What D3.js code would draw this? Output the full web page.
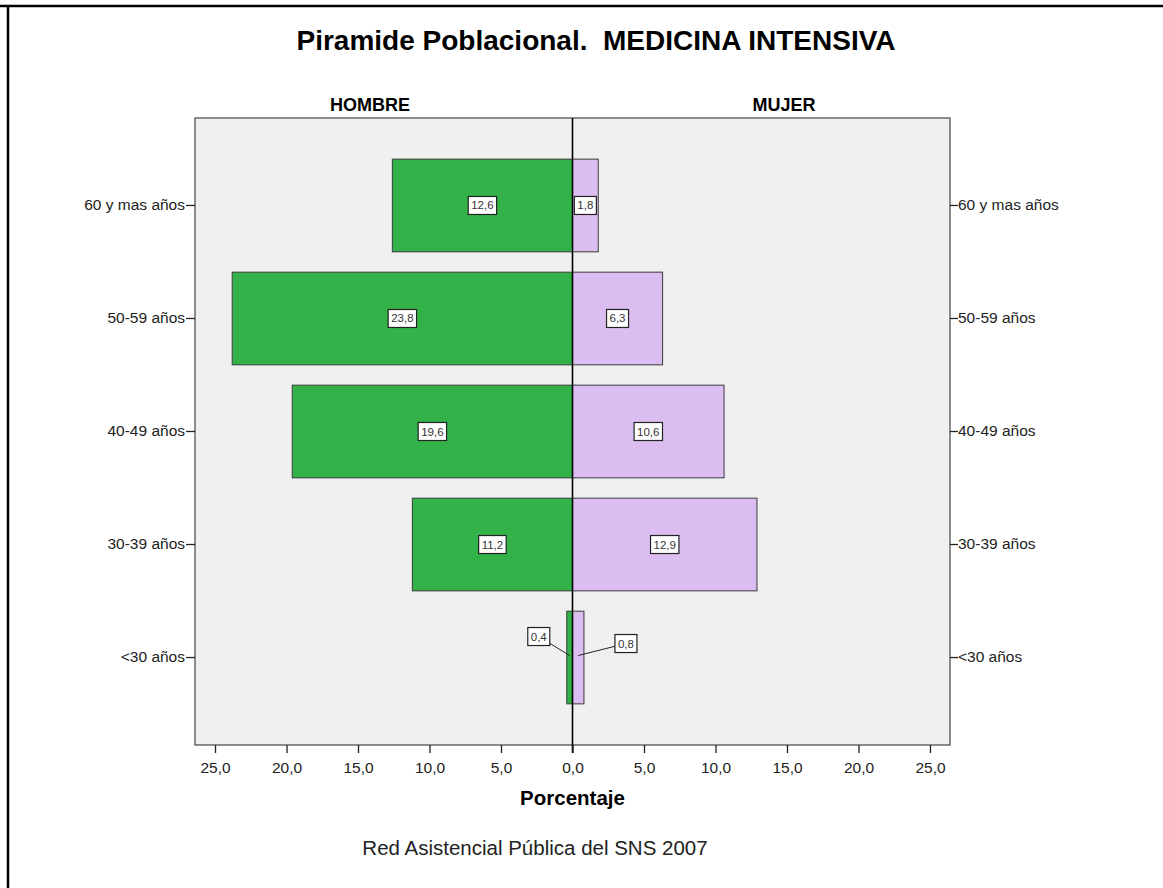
<!DOCTYPE html>
<html>
<head>
<meta charset="utf-8">
<script src="https://cdn.jsdelivr.net/npm/d3@7"></script>
<style>
  body { margin: 0; background: #fff; }
  svg { display: block; font-family: Arial, "Liberation Sans", sans-serif; }
</style>
</head>
<body>
<div id="chart"></div>
<script>
// Datos (porcentaje por grupo de edad)
const ageGroups = ['60 y mas años', '50-59 años', '40-49 años', '30-39 años', '<30 años'];
const hombre = [12.6, 23.8, 19.6, 11.2, 0.4];
const mujer = [1.8, 6.3, 10.6, 12.9, 0.8];
const xTicks = [-25, -20, -15, -10, -5, 0, 5, 10, 15, 20, 25];

const width = 1163, height = 888;
const plot = { left: 195, right: 950, top: 118, bottom: 745 };
const FONT = 'Arial, "Liberation Sans", sans-serif';

const svg = d3.select('#chart').append('svg')
  .attr('width', width).attr('height', height);

// marco exterior
svg.append('line').attr('x1', 0).attr('x2', width).attr('y1', 6).attr('y2', 6)
  .attr('stroke', '#000').attr('stroke-width', 2.5);
svg.append('line').attr('x1', 8).attr('x2', 8).attr('y1', 6).attr('y2', height)
  .attr('stroke', '#000').attr('stroke-width', 2.5);

const x = d3.scaleLinear().domain([-26.4, 26.4]).range([plot.left, plot.right]);
const y = d3.scaleBand().domain(ageGroups).range([plot.top, plot.bottom])
  .paddingInner(0.18).paddingOuter(0.364);

// fondo del area de graficos
svg.append('rect')
  .attr('x', plot.left).attr('y', plot.top)
  .attr('width', plot.right - plot.left).attr('height', plot.bottom - plot.top)
  .attr('fill', '#f0f0f0');

const rows = ageGroups.map((g, i) => ({ g, h: hombre[i], m: mujer[i] }));

// barras
svg.append('g').selectAll('rect').data(rows).join('rect')
  .attr('x', d => x(-d.h)).attr('y', d => y(d.g))
  .attr('width', d => x(0) - x(-d.h)).attr('height', y.bandwidth())
  .attr('fill', '#33b24a').attr('stroke', '#3a3a3a').attr('stroke-width', 1);

svg.append('g').selectAll('rect').data(rows).join('rect')
  .attr('x', x(0)).attr('y', d => y(d.g))
  .attr('width', d => x(d.m) - x(0)).attr('height', y.bandwidth())
  .attr('fill', '#dcbdf2').attr('stroke', '#3a3a3a').attr('stroke-width', 1);

// borde del area
svg.append('rect')
  .attr('x', plot.left).attr('y', plot.top)
  .attr('width', plot.right - plot.left).attr('height', plot.bottom - plot.top)
  .attr('fill', 'none').attr('stroke', '#444').attr('stroke-width', 1.2);

// linea central
svg.append('line').attr('x1', x(0)).attr('x2', x(0))
  .attr('y1', plot.top).attr('y2', plot.bottom + 8)
  .attr('stroke', '#000').attr('stroke-width', 1.6);

// etiquetas de valor
const fmt = v => d3.format('.1f')(v).replace('.', ',');
const labels = [];
rows.forEach(d => {
  const cy = y(d.g) + y.bandwidth() / 2;
  const small = d.h < 1 || d.m < 1;
  labels.push({ v: d.h, cx: (x(-d.h) + x(0)) / 2, cy,
    lx: small ? x(-d.h) - 28 : null, ly: small ? cy - 21 : null });
  labels.push({ v: d.m, cx: (x(d.m) + x(0)) / 2, cy,
    lx: small ? x(d.m) + 42 : null, ly: small ? cy - 14 : null });
});

const lab = svg.append('g').selectAll('g').data(labels).join('g');
lab.filter(d => d.lx !== null).append('line')
  .attr('x1', d => d.cx).attr('y1', d => d.cy - 2)
  .attr('x2', d => d.lx).attr('y2', d => d.ly)
  .attr('stroke', '#222').attr('stroke-width', 1);
lab.each(function (d) {
  const g = d3.select(this);
  const px = d.lx !== null ? d.lx : d.cx;
  const py = d.ly !== null ? d.ly : d.cy;
  const t = g.append('text').text(fmt(d.v))
    .attr('x', px).attr('y', py + 4)
    .attr('text-anchor', 'middle').attr('font-size', 11.5).attr('fill', '#333');
  const w = t.node().getComputedTextLength() + 6;
  g.insert('rect', 'text')
    .attr('x', px - w / 2).attr('y', py - 9).attr('width', w).attr('height', 18)
    .attr('fill', '#fff').attr('stroke', '#222').attr('stroke-width', 1.2);
});

// ejes de categorias
const yl = svg.append('g').attr('transform', `translate(${plot.left},0)`)
  .call(d3.axisLeft(y).tickSize(9).tickPadding(1));
const yr = svg.append('g').attr('transform', `translate(${plot.right},0)`)
  .call(d3.axisRight(y).tickSize(8).tickPadding(0));
[yl, yr].forEach(a => {
  a.select('.domain').remove();
  a.selectAll('line').attr('stroke', '#222').attr('stroke-width', 1.3);
  a.selectAll('text').attr('font-size', 15.5).attr('fill', '#222')
    .attr('font-family', FONT);
});

// eje x
const xa = svg.append('g').attr('transform', `translate(0,${plot.bottom})`)
  .call(d3.axisBottom(x).tickValues(xTicks).tickSize(8).tickPadding(9)
    .tickFormat(v => fmt(Math.abs(v))));
xa.select('.domain').remove();
xa.selectAll('line').attr('stroke', '#222').attr('stroke-width', 1.3);
xa.selectAll('text').attr('font-size', 15.5).attr('fill', '#222')
  .attr('font-family', FONT);

// textos
svg.append('text').text('Piramide Poblacional.  MEDICINA INTENSIVA')
  .attr('x', 596).attr('y', 50).attr('text-anchor', 'middle')
  .attr('font-size', 28).attr('font-weight', 'bold').attr('fill', '#000')
  .style('white-space', 'pre');
svg.append('text').text('HOMBRE').attr('x', 370).attr('y', 111)
  .attr('text-anchor', 'middle').attr('font-size', 18).attr('font-weight', 'bold');
svg.append('text').text('MUJER').attr('x', 784).attr('y', 111)
  .attr('text-anchor', 'middle').attr('font-size', 18).attr('font-weight', 'bold');
svg.append('text').text('Porcentaje').attr('x', x(0)).attr('y', 805)
  .attr('text-anchor', 'middle').attr('font-size', 20.5).attr('font-weight', 'bold');
svg.append('text').text('Red Asistencial Pública del SNS 2007').attr('x', 535).attr('y', 855)
  .attr('text-anchor', 'middle').attr('font-size', 20.5).attr('fill', '#222');
</script>
</body>
</html>
